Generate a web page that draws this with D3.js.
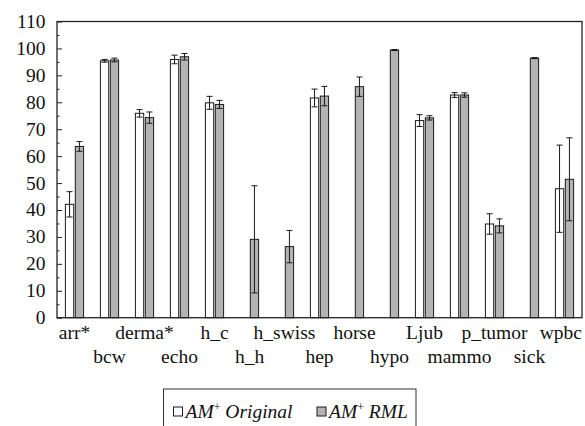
<!DOCTYPE html>
<html>
<head>
<meta charset="utf-8">
<script src="https://cdn.jsdelivr.net/npm/d3@7"></script>
<style>
  html, body { margin: 0; padding: 0; background: #fff; }
  svg { display: block; }
</style>
</head>
<body>
<svg id="chart" width="585" height="426"></svg>
<script>
// Accuracy (%) per data set for the two AM+ variants, with standard deviations
const datasets = ["arr*", "bcw", "derma*", "echo", "h_c", "h_h", "h_swiss", "hep",
                  "horse", "hypo", "Ljub", "mammo", "p_tumor", "sick", "wpbc"];
const originalMean = [42.1, 95.4, 75.9, 95.9, 79.8, 0, 0, 81.6, 0, 0, 73.2, 82.7, 34.8, 0, 47.9];
const originalSd   = [4.7, 0.5, 1.4, 1.6, 2.4, 0, 0, 3.3, 0, 0, 2.2, 0.9, 3.8, 0, 16.2];
const rmlMean      = [63.6, 95.7, 74.3, 96.9, 79.2, 29.1, 26.4, 82.3, 85.8, 99.4, 74.2, 82.7, 34.1, 96.4, 51.4];
const rmlSd        = [1.8, 0.7, 2.1, 1.2, 1.5, 19.9, 6.0, 3.6, 3.6, 0.2, 0.8, 0.8, 2.6, 0.2, 15.4];
const yTicks = d3.range(0, 111, 10);
const seriesNames = ["Original", "RML"];

const FONT = "Liberation Serif";
const svg = d3.select("#chart");
const margin = { left: 57, right: 582, top: 21.5, bottom: 317.7 };

const x = d3.scaleBand().domain(datasets).range([margin.left, margin.right]);
const y = d3.scaleLinear().domain([0, 110]).range([margin.bottom, margin.top]);

const barW = 8.3;
const fills = ["#ffffff", "#b3b3b3"];
const series = [
  { mean: originalMean, sd: originalSd, offset: -9.1, fill: fills[0] },
  { mean: rmlMean, sd: rmlSd, offset: 0.8, fill: fills[1] }
];

// bars
series.forEach(s => {
  svg.append("g").selectAll("rect")
    .data(datasets)
    .join("rect")
    .attr("x", d => x(d) + x.bandwidth() / 2 + s.offset)
    .attr("y", (d, i) => y(s.mean[i]))
    .attr("width", barW)
    .attr("height", (d, i) => y(0) - y(s.mean[i]))
    .attr("fill", s.fill)
    .attr("stroke", "#1a1a1a")
    .attr("stroke-width", 1);
});

// error bars (mean ± sd)
const capW = 6;
series.forEach(s => {
  const g = svg.append("g").attr("stroke", "#1a1a1a").attr("stroke-width", 1).attr("fill", "none");
  datasets.forEach((d, i) => {
    if (s.mean[i] === 0) return;
    const cx = x(d) + x.bandwidth() / 2 + s.offset + barW / 2;
    const hi = y(s.mean[i] + s.sd[i]);
    const lo = y(s.mean[i] - s.sd[i]);
    g.append("line").attr("x1", cx).attr("x2", cx).attr("y1", hi).attr("y2", lo);
    g.append("line").attr("x1", cx - capW / 2).attr("x2", cx + capW / 2).attr("y1", hi).attr("y2", hi);
    g.append("line").attr("x1", cx - capW / 2).attr("x2", cx + capW / 2).attr("y1", lo).attr("y2", lo);
  });
});

// plot frame
svg.append("rect")
  .attr("x", margin.left).attr("y", margin.top)
  .attr("width", margin.right - margin.left).attr("height", margin.bottom - margin.top)
  .attr("fill", "none").attr("stroke", "#222").attr("stroke-width", 1.3);

// y axis: major ticks every 10, minor every 5, pointing inward
const yAxis = d3.axisRight(y).tickValues(yTicks).tickSize(5).tickFormat("");
svg.append("g").attr("transform", `translate(${margin.left},0)`).call(yAxis)
  .call(g => g.select(".domain").remove())
  .call(g => g.selectAll("line").attr("stroke", "#222"));
const yMinor = d3.axisRight(y).tickValues(d3.range(5, 110, 10)).tickSize(2.5).tickFormat("");
svg.append("g").attr("transform", `translate(${margin.left},0)`).call(yMinor)
  .call(g => g.select(".domain").remove())
  .call(g => g.selectAll("line").attr("stroke", "#222"));

svg.append("g").selectAll("text")
  .data(yTicks)
  .join("text")
  .attr("x", 45.5)
  .attr("y", d => y(d) + 6.5)
  .attr("text-anchor", "end")
  .attr("font-family", FONT)
  .attr("font-size", 19.5)
  .attr("fill", "#111")
  .text(d => d);

// x labels in two staggered rows so neighbouring names stay clear of each other;
// a label that would run past the right edge is pulled back inside the canvas
const canvasW = 585;
svg.append("g").selectAll("text")
  .data(datasets)
  .join("text")
  .attr("y", (d, i) => margin.bottom + (i % 2 === 0 ? 21 : 45))
  .attr("text-anchor", "middle")
  .attr("font-family", FONT)
  .attr("font-size", 19.5)
  .attr("fill", "#111")
  .text(d => d)
  .each(function (d) {
    const half = this.getComputedTextLength() / 2;
    const cx = x(d) + x.bandwidth() / 2;
    d3.select(this).attr("x", Math.min(cx, canvasW - 3 - half));
  });

// legend
const lg = svg.append("g");
lg.append("rect").attr("x", 163.5).attr("y", 389).attr("width", 252.5).attr("height", 60)
  .attr("fill", "#fff").attr("stroke", "#333").attr("stroke-width", 1);
const legendItems = [
  { name: seriesNames[0], fill: fills[0], sx: 173.5, tx: 185.5 },
  { name: seriesNames[1], fill: fills[1], sx: 317, tx: 329 }
];
legendItems.forEach(it => {
  lg.append("rect").attr("x", it.sx).attr("y", 407).attr("width", 9).attr("height", 9)
    .attr("fill", it.fill).attr("stroke", "#1a1a1a").attr("stroke-width", 1);
  const t = lg.append("text").attr("x", it.tx).attr("y", 418)
    .attr("font-family", FONT).attr("font-size", 19.5).attr("font-style", "italic")
    .attr("fill", "#111");
  t.append("tspan").text("AM");
  t.append("tspan").attr("dy", -7).attr("font-size", 12).attr("font-style", "normal").text("+");
  t.append("tspan").attr("dy", 7).text(" " + it.name);
});
</script>
</body>
</html>
